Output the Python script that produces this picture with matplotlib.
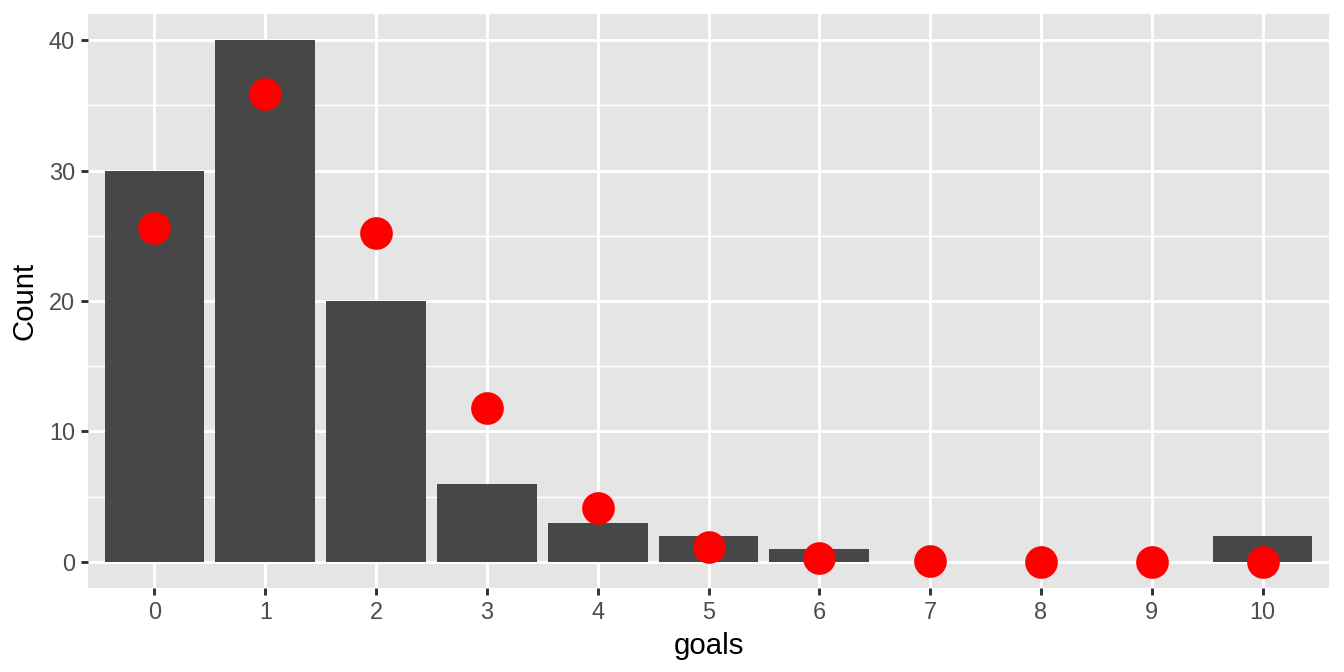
import matplotlib
matplotlib.use('Agg')
from matplotlib import pyplot as plt

plt.rcParams['font.family'] = ['Liberation Sans', 'DejaVu Sans']

goals = [0, 1, 2, 3, 4, 5, 6, 7, 8, 9, 10]
counts = [30, 40, 20, 6, 3, 2, 1, 0, 0, 0, 2]
expected = [25.6, 35.9, 25.2, 11.8, 4.15, 1.17, 0.27, 0.05, 0.01, 0.0, 0.0]

fig = plt.figure(figsize=(7, 3.5), dpi=192)
ax = fig.add_axes([88 / 1344, 84 / 672, (1329 - 88) / 1344, (588 - 14) / 672])
ax.set_facecolor('#E5E5E5')

ax.bar(goals, counts, width=0.9, color='#474747', zorder=3)
ax.scatter(goals, expected, s=150, color='#FF0000', linewidths=0, zorder=4)

ax.set_xlim(-0.6, 10.6)
ax.set_ylim(-2, 42)
ax.set_xticks(goals)
ax.set_yticks([0, 10, 20, 30, 40])
ax.set_yticks([5, 15, 25, 35], minor=True)

ax.grid(which='major', color='white', linewidth=1.1, zorder=1)
ax.grid(which='minor', axis='y', color='white', linewidth=0.55, zorder=1)
ax.set_axisbelow(True)
for s in ax.spines.values():
    s.set_visible(False)

ax.tick_params(which='major', length=2.75, width=1.1, color='#333333',
               labelsize=8.8, labelcolor='#4D4D4D', pad=2.2)
ax.tick_params(which='minor', length=0)

ax.set_xlabel('goals', fontsize=11, color='black', labelpad=3)
ax.set_ylabel('Count', fontsize=11, color='black', labelpad=4)

fig.savefig('out.png', dpi=192, facecolor='white')
